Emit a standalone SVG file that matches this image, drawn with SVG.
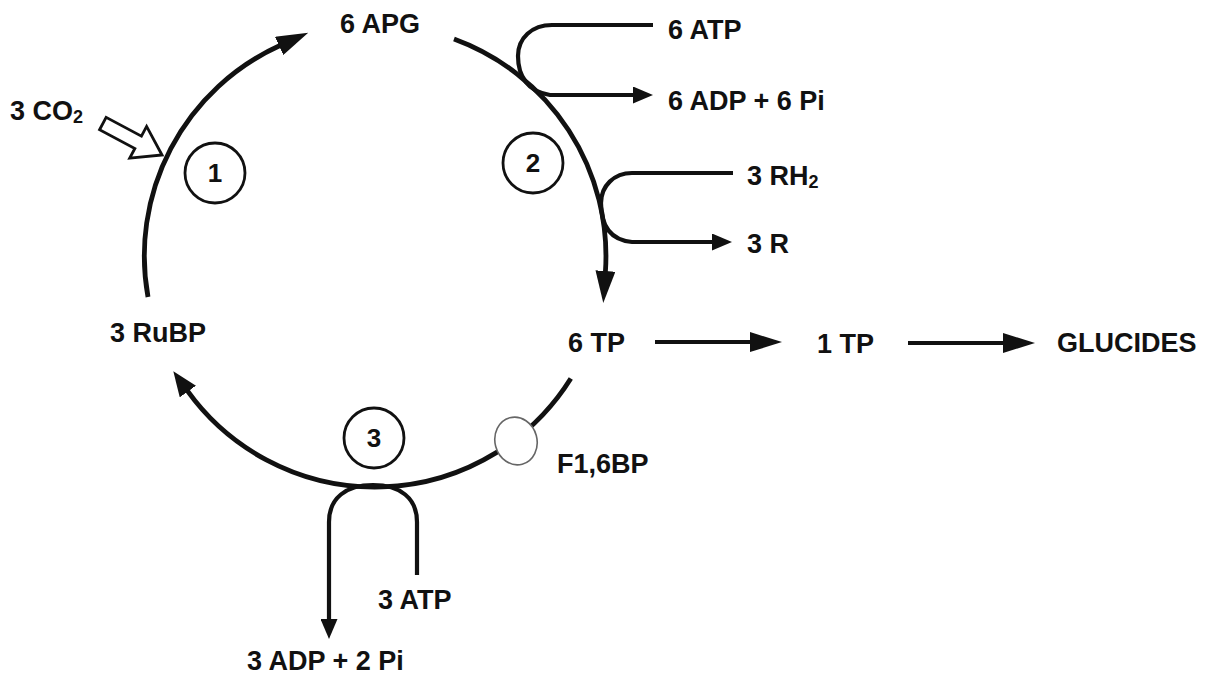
<svg xmlns="http://www.w3.org/2000/svg" width="1212" height="674" viewBox="0 0 1212 674">
<style>
text{font-family:"Liberation Sans",Arial,sans-serif;font-size:27px;font-weight:bold;fill:#111}
.num{font-size:26px;text-anchor:middle}
.ln{fill:none;stroke:#111;stroke-width:4.8;stroke-linecap:butt}
.br{fill:none;stroke:#111;stroke-width:4.2}
.step{fill:#fff;stroke:#111;stroke-width:2.8}
</style>
<defs>
<marker id="big" markerUnits="userSpaceOnUse" viewBox="0 0 32 20" markerWidth="32" markerHeight="20" refX="1" refY="10" orient="auto"><path d="M0,0 L32,10 L0,20 Z" fill="#111"/></marker>
<marker id="med" markerUnits="userSpaceOnUse" viewBox="0 0 25 20" markerWidth="25" markerHeight="20" refX="1" refY="10" orient="auto"><path d="M0,0 L25,10 L0,20 Z" fill="#111"/></marker>
<marker id="sm" markerUnits="userSpaceOnUse" viewBox="0 0 20 17" markerWidth="20" markerHeight="17" refX="1" refY="8.5" orient="auto"><path d="M0,0 L20,8.5 L0,17 Z" fill="#111"/></marker>
</defs>
<rect width="1212" height="674" fill="#fff"/>
<g id="connectors">
<path class="ln" d="M148,297 A231,231 0 0 1 280,45.5" marker-end="url(#big)"/>
<path class="ln" d="M454,39 A231,231 0 0 1 605.4,272" marker-end="url(#big)"/>
<path class="ln" d="M570.8,378.6 A231,231 0 0 1 187.3,390.7" marker-end="url(#med)"/>
<path class="br" d="M653,25 H552 C532,25 518,38 518,56 C518,76 528,92 550,95 H634" marker-end="url(#sm)"/>
<path class="br" d="M733,173 H632 C614,173 601,186 601,203 C601,225 610,240 632,242 H713" marker-end="url(#sm)"/>
<path class="br" d="M417,575 V522 C417,498 400,485 373,485 C346,485 329,498 329,522 V620" marker-end="url(#sm)"/>
<path class="br" d="M655,342 H751" marker-end="url(#big)"/>
<path class="br" d="M908,343 H1004" marker-end="url(#big)"/>
<path d="M0,0 L-27,-18 L-27,-7 L-67,-7 L-67,7 L-27,7 L-27,18 Z" transform="translate(162,155) rotate(28)" fill="#fff" stroke="#111" stroke-width="2.8" stroke-linejoin="miter"/>
</g>
<g id="step1"><circle class="step" cx="215" cy="173" r="30"/><text class="num" x="215" y="182">1</text></g>
<g id="step2"><circle class="step" cx="533" cy="163" r="30"/><text class="num" x="533" y="172">2</text></g>
<g id="step3"><circle class="step" cx="374" cy="438" r="30"/><text class="num" x="374" y="447">3</text></g>
<g id="f16bp"><ellipse cx="516" cy="441" rx="21" ry="24" transform="rotate(-15 516 441)" fill="#fff" stroke="#666" stroke-width="1.6"/><text x="557" y="473">F1,6BP</text></g>
<g id="apg"><text x="340" y="33">6 APG</text></g>
<g id="co2"><text x="10" y="120">3 CO<tspan font-size="18" dy="3">2</tspan></text></g>
<g id="atp6"><text x="668" y="39">6 ATP</text></g>
<g id="adp6"><text x="668" y="110">6 ADP + 6 Pi</text></g>
<g id="rh2"><text x="747" y="185">3 RH<tspan font-size="18" dy="3">2</tspan></text></g>
<g id="r3"><text x="747" y="253">3 R</text></g>
<g id="rubp"><text x="110" y="342">3 RuBP</text></g>
<g id="tp6"><text x="568" y="352">6 TP</text></g>
<g id="tp1"><text x="817" y="353">1 TP</text></g>
<g id="glucides"><text x="1057" y="352">GLUCIDES</text></g>
<g id="atp3"><text x="378" y="609">3 ATP</text></g>
<g id="adp3"><text x="247" y="670">3 ADP + 2 Pi</text></g>
</svg>
